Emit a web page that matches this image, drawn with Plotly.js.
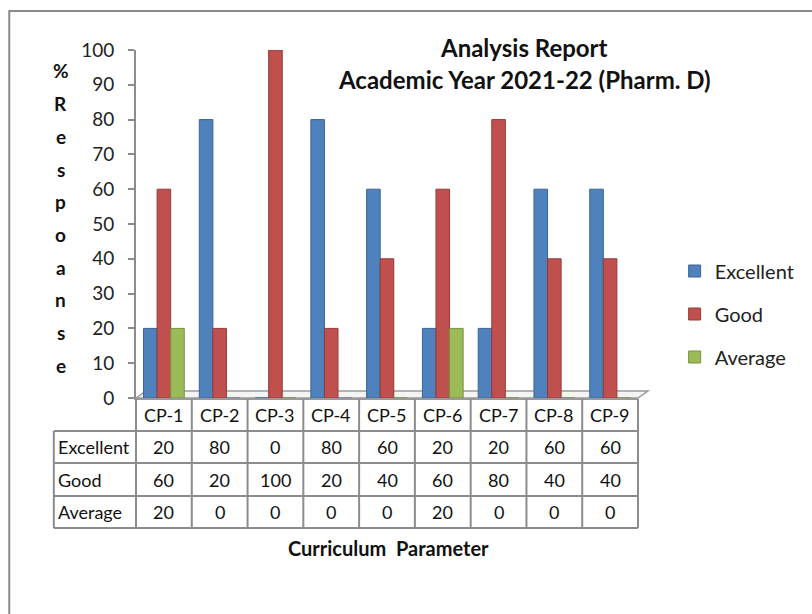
<!DOCTYPE html>
<html>
<head>
<meta charset="utf-8">
<script src="https://cdn.plot.ly/plotly-3.0.1.min.js"></script>
<style>html,body{margin:0;padding:0;background:#fff;}#chart{width:812px;height:614px;}</style>
</head>
<body>
<div id="chart"></div>
<script>
const categories = ['CP-1','CP-2','CP-3','CP-4','CP-5','CP-6','CP-7','CP-8','CP-9'];
const excellent = [20, 80, 0, 80, 60, 20, 20, 60, 60];
const good = [60, 20, 100, 20, 40, 60, 80, 40, 40];
const average = [20, 0, 0, 0, 0, 20, 0, 0, 0];
const seriesNames = ['Excellent', 'Good', 'Average'];
const seriesValues = [excellent, good, average];
const seriesColors = ['#4F81BD', '#C0504D', '#9BBB59'];
const seriesEdge = ['#3A6494', '#943B39', '#76923C'];
const yTicks = [0, 10, 20, 30, 40, 50, 60, 70, 80, 90, 100];
const yTitleLetters = ['%', 'R', 'e', 's', 'p', 'o', 'a', 'n', 's', 'e'];
const titleLines = ['Analysis Report', 'Academic Year 2021-22 (Pharm. D)'];
const xTitle = 'Curriculum\u00a0\u00a0Parameter';

const W = 812, H = 614;
const L = 136, R = 643, T = 50, B = 398;
const px = x => (x - L) / (R - L);
const py = y => (B - y) / (B - T);
const FONT = 'Lato, "Open Sans", sans-serif';

const traces = seriesNames.map((n, i) => ({
  type: 'bar', name: n, x: categories, y: seriesValues[i],
  marker: {color: seriesColors[i], line: {color: seriesEdge[i], width: 1}},
  legendgroup: 'g' + i, hoverinfo: 'x+y+name'
}));

const shapes = [];
const annotations = [];
const lineStyle = {color: '#8c8c8c', width: 2};
const ann = o => annotations.push(Object.assign({showarrow: false, xanchor: 'center', yanchor: 'middle'}, o));
// outer chart border
shapes.push({type: 'rect', xref: 'paper', yref: 'paper', x0: px(8), x1: px(830), y0: py(11), y1: py(640), line: {color: '#8a8a8a', width: 2}, fillcolor: 'rgba(0,0,0,0)', layer: 'below'});
// 3-D floor outline
shapes.push({type: 'path', xref: 'paper', yref: 'paper', layer: 'below',
  path: `M ${px(136)} ${py(398)} L ${px(146)} ${py(391)} L ${px(653)} ${py(391)} L ${px(643)} ${py(398)} Z`,
  line: {color: '#9a9a9a', width: 1.5}, fillcolor: '#f4f4f4'});
const rowTops = [431, 463, 496, 528];
const nCat = categories.length;
for (let k = 0; k <= nCat; k++) {
  shapes.push({type: 'line', xref: 'paper', yref: 'paper', x0: k / nCat, x1: k / nCat, y0: py(399), y1: py(528), line: lineStyle});
}
shapes.push({type: 'line', xref: 'paper', yref: 'paper', x0: px(53), x1: px(53), y0: py(431), y1: py(528), line: lineStyle});
rowTops.forEach(y => shapes.push({type: 'line', xref: 'paper', yref: 'paper', x0: px(53), x1: 1, y0: py(y), y1: py(y), line: lineStyle}));

const tFont = {family: FONT, size: 18, color: '#111'};
categories.forEach((c, j) => {
  ann({xref: 'x', yref: 'paper', x: c, y: py(415), text: c, font: tFont});
  seriesValues.forEach((vals, i) => {
    const yc = (rowTops[i] + rowTops[i + 1]) / 2;
    ann({xref: 'x', yref: 'paper', x: c, y: py(yc), text: String(vals[j]), font: tFont});
  });
});
seriesNames.forEach((n, i) => {
  const yc = (rowTops[i] + rowTops[i + 1]) / 2;
  ann({xref: 'paper', yref: 'paper', x: px(55), xanchor: 'left', y: py(yc), text: n, font: tFont});
});
ann({xref: 'paper', yref: 'paper', x: px(391), y: py(548), text: '<b>' + xTitle + '</b>', font: {family: FONT, size: 20, color: '#111'}});
yTitleLetters.forEach((ch, i) => {
  ann({xref: 'paper', yref: 'paper', x: px(60), y: py(71 + i * 32.7), text: '<b>' + ch + '</b>', font: {family: FONT, size: 19, color: '#111'}});
});
titleLines.forEach((t, i) => {
  ann({xref: 'paper', yref: 'paper', x: px(528), y: py(48 + i * 32), text: '<b>' + t + '</b>', font: {family: FONT, size: 24, color: '#111'}});
});

const layout = {
  width: W, height: H,
  margin: {l: L, r: W - R, t: T, b: H - B, pad: 0},
  paper_bgcolor: '#fff', plot_bgcolor: 'rgba(0,0,0,0)',
  barmode: 'group', bargap: 0.27, bargroupgap: 0,
  showlegend: true,
  legend: {x: px(680), xanchor: 'left', y: py(314), yanchor: 'middle', font: {family: FONT, size: 20, color: '#222'}, tracegroupgap: 14, bgcolor: 'rgba(0,0,0,0)'},
  xaxis: {type: 'category', showticklabels: false, showline: true, linecolor: '#999', linewidth: 2, ticks: '', showgrid: false, zeroline: false, fixedrange: true},
  yaxis: {range: [0, 100], tickvals: yTicks, showline: true, linecolor: '#8c8c8c', linewidth: 2, ticks: 'outside', ticklen: 6, tickcolor: '#8c8c8c', tickwidth: 2, ticklabelstandoff: 10, showgrid: false, zeroline: false, tickfont: {family: FONT, size: 19, color: '#222'}, fixedrange: true},
  shapes: shapes,
  annotations: annotations
};

Plotly.newPlot('chart', traces, layout, {displayModeBar: false, staticPlot: true});
</script>
</body>
</html>
